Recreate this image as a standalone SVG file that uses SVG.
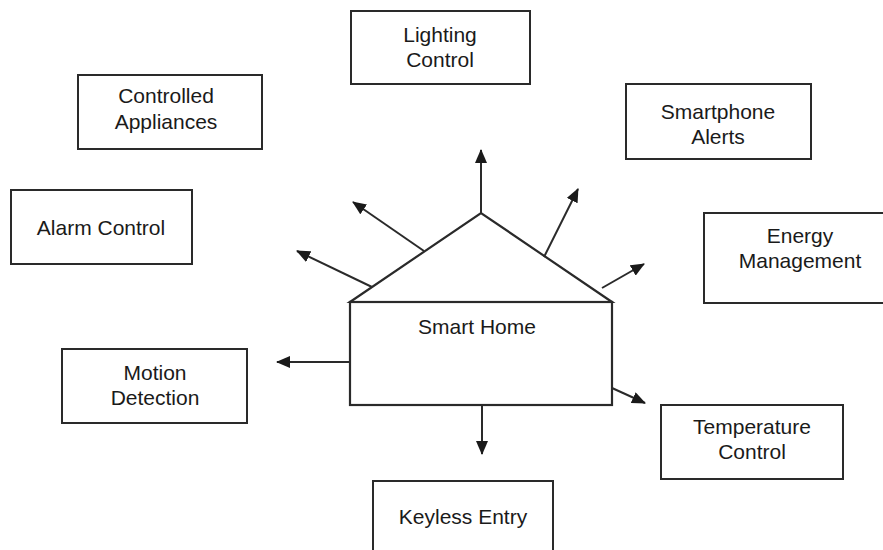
<svg xmlns="http://www.w3.org/2000/svg" width="883" height="550" viewBox="0 0 883 550">
  <style>
    .box { fill: #ffffff; stroke: #2a2a2a; stroke-width: 2; }
    .house { fill: #ffffff; stroke: #2a2a2a; stroke-width: 2.2; stroke-linejoin: miter; }
    .lbl { font-family: "Liberation Sans", Arial, Helvetica, sans-serif; font-size: 21px; fill: #1a1a1a; text-anchor: middle; }
    .link { stroke: #2a2a2a; stroke-width: 2; fill: none; marker-end: url(#tip); }
  </style>
  <defs>
    <marker id="tip" markerUnits="userSpaceOnUse" markerWidth="14" markerHeight="12" refX="13" refY="6" orient="auto">
      <path d="M0,0 L14,6 L0,12 z" fill="#1a1a1a"/>
    </marker>
  </defs>
  <rect width="883" height="550" fill="#ffffff"/>

  <!-- central house -->
  <g id="smart-home">
    <path class="house" d="M350,302 L481,213 L612,302 Z"/>
    <rect class="house" x="350" y="302" width="262" height="103"/>
    <text class="lbl" x="477" y="334">Smart Home</text>
  </g>

  <!-- connectors radiating from the house -->
  <g id="connectors">
    <line class="link" x1="481" y1="213" x2="481" y2="150"/>
    <line class="link" x1="544" y1="257" x2="578" y2="189"/>
    <line class="link" x1="424" y1="251" x2="353" y2="202"/>
    <line class="link" x1="372" y1="287" x2="297" y2="251"/>
    <line class="link" x1="602" y1="288" x2="644" y2="264"/>
    <line class="link" x1="350" y1="362" x2="277" y2="362"/>
    <line class="link" x1="612" y1="388" x2="645" y2="403"/>
    <line class="link" x1="482" y1="405" x2="482" y2="454"/>
  </g>

  <g id="lighting-control">
    <rect class="box" x="351" y="11" width="179" height="73"/>
    <text class="lbl" x="440" y="42">Lighting</text>
    <text class="lbl" x="440" y="67">Control</text>
  </g>

  <g id="smartphone-alerts">
    <rect class="box" x="626" y="84" width="185" height="75"/>
    <text class="lbl" x="718" y="119">Smartphone</text>
    <text class="lbl" x="718" y="144">Alerts</text>
  </g>

  <g id="controlled-appliances">
    <rect class="box" x="78" y="75" width="184" height="74"/>
    <text class="lbl" x="166" y="103">Controlled</text>
    <text class="lbl" x="166" y="129">Appliances</text>
  </g>

  <g id="alarm-control">
    <rect class="box" x="11" y="190" width="181" height="74"/>
    <text class="lbl" x="101" y="235">Alarm Control</text>
  </g>

  <g id="energy-management">
    <rect class="box" x="704" y="213" width="190" height="90"/>
    <text class="lbl" x="800" y="243">Energy</text>
    <text class="lbl" x="800" y="268">Management</text>
  </g>

  <g id="motion-detection">
    <rect class="box" x="62" y="349" width="185" height="74"/>
    <text class="lbl" x="155" y="380">Motion</text>
    <text class="lbl" x="155" y="405">Detection</text>
  </g>

  <g id="temperature-control">
    <rect class="box" x="661" y="405" width="182" height="74"/>
    <text class="lbl" x="752" y="434">Temperature</text>
    <text class="lbl" x="752" y="459">Control</text>
  </g>

  <g id="keyless-entry">
    <rect class="box" x="373" y="481" width="180" height="80"/>
    <text class="lbl" x="463" y="524">Keyless Entry</text>
  </g>
</svg>
